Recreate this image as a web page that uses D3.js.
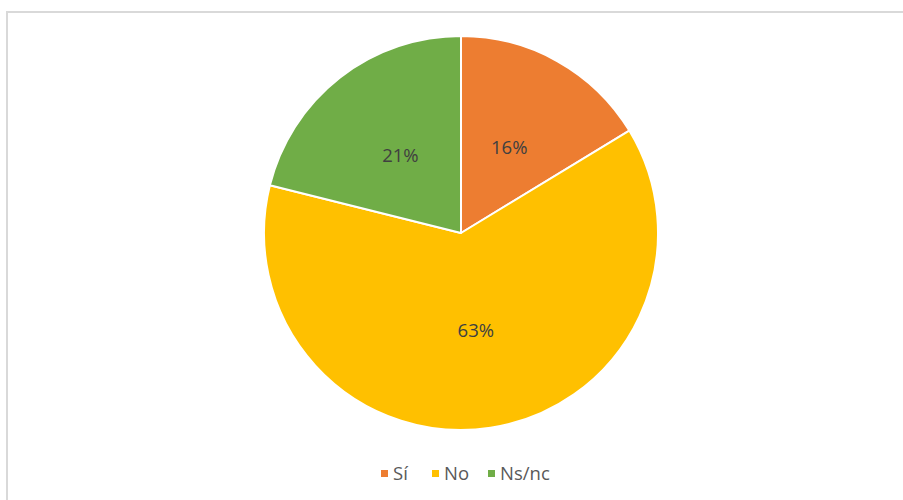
<!DOCTYPE html>
<html><head><meta charset="utf-8">
<script src="https://cdn.jsdelivr.net/npm/d3@7"></script>
<style>body{margin:0;background:#fff}svg{display:block}</style>
</head><body>
<svg id="c" width="903" height="500"></svg>
<script>
const categories = ["Sí", "No", "Ns/nc"];
const values = [16.3, 62.6, 21.1];
const colors = ["#ED7D31", "#FFC000", "#70AD47"];

const svg = d3.select("#c");
svg.append("rect").attr("x", 7).attr("y", 12).attr("width", 920).attr("height", 520)
  .attr("fill", "#fff").attr("stroke", "#d9d9d9").attr("stroke-width", 2);

const cx = 461, cy = 233, R = 197;
const pie = d3.pie().sort(null).value(d => d)(values);
const arc = d3.arc().innerRadius(0).outerRadius(R);
const labelArc = d3.arc().innerRadius(R * 0.5).outerRadius(R * 0.5);
const g = svg.append("g").attr("transform", `translate(${cx},${cy})`);
g.selectAll("path").data(pie).join("path")
  .attr("d", arc).attr("fill", (d, i) => colors[i])
  .attr("stroke", "#fff").attr("stroke-width", 2).attr("stroke-linejoin", "round");
const total = d3.sum(values);
g.selectAll("text").data(pie).join("text")
  .attr("transform", d => `translate(${labelArc.centroid(d)})`)
  .attr("text-anchor", "middle").attr("dy", "0.35em")
  .attr("font-family", "'Open Sans', sans-serif").attr("font-size", 18.5)
  .attr("fill", "#404040")
  .text(d => Math.round(d.value / total * 100) + "%");

const legendX = [381, 432, 488];
const lg = svg.append("g");
categories.forEach((c, i) => {
  lg.append("rect").attr("x", legendX[i]).attr("y", 470).attr("width", 7).attr("height", 7).attr("fill", colors[i]);
  lg.append("text").attr("x", legendX[i] + 12).attr("y", 474).attr("dy", "0.35em")
    .attr("font-family", "'Open Sans', sans-serif").attr("font-size", 18.5)
    .attr("fill", "#595959").text(c);
});
</script>
</body></html>
